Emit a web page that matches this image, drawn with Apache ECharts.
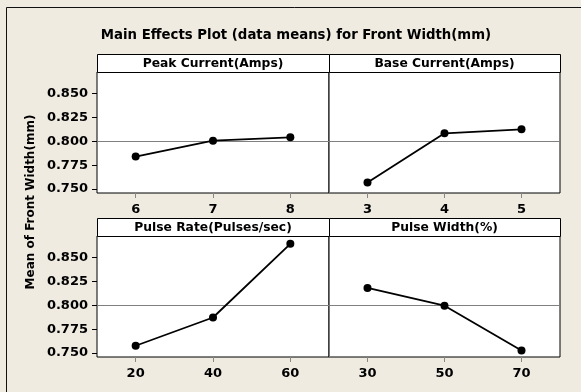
<!DOCTYPE html>
<html>
<head>
<meta charset="utf-8">
<script src="https://cdn.jsdelivr.net/npm/echarts@6/dist/echarts.min.js"></script>
<style>
html,body{margin:0;padding:0;background:#EFEBE1;}
#chart{width:581px;height:392px;}
</style>
</head>
<body>
<div id="chart"></div>
<script>
// ---- data ----
const chartTitle = 'Main Effects Plot (data means) for Front Width(mm)';
const yAxisTitle = 'Mean of Front Width(mm)';
const factorNames = ['Peak Current(Amps)', 'Base Current(Amps)', 'Pulse Rate(Pulses/sec)', 'Pulse Width(%)'];
const peakLevels = ['6', '7', '8'];
const peakMeans = [0.7840, 0.8007, 0.8042];
const baseLevels = ['3', '4', '5'];
const baseMeans = [0.7568, 0.8084, 0.8126];
const rateLevels = ['20', '40', '60'];
const rateMeans = [0.7576, 0.7872, 0.8645];
const widthLevels = ['30', '50', '70'];
const widthMeans = [0.8182, 0.7996, 0.7527];
const yTicks = [0.750, 0.775, 0.800, 0.825, 0.850];
const grandMean = 0.7975;
const yMin = 0.7458, yMax = 0.8727;

const levels = [peakLevels, baseLevels, rateLevels, widthLevels];
const means = [peakMeans, baseMeans, rateMeans, widthMeans];

const FONT = 'DejaVu Sans';
const L = 97, M = 329, R = 560;
const rows = [{stripTop: 54, top: 72, h: 121}, {stripTop: 218, top: 236, h: 121}];

const grids = [], xAxes = [], yAxes = [], series = [], graphics = [];

// outer frame (top + left borders visible)
graphics.push({type: 'rect', shape: {x: 6.5, y: 7.5, width: 800, height: 600},
  style: {fill: 'none', stroke: '#111', lineWidth: 1}, z: 0, silent: true});

for (let i = 0; i < 4; i++) {
  const row = rows[Math.floor(i / 2)];
  const col = i % 2;
  const left = col === 0 ? L : M;
  const width = col === 0 ? M - L : R - M;
  grids.push({left: left, top: row.top, width: width, height: row.h,
    show: true, backgroundColor: '#fff', borderColor: '#000', borderWidth: 1, containLabel: false});
  xAxes.push({type: 'category', gridIndex: i, data: levels[i], boundaryGap: true,
    axisLine: {show: false},
    axisTick: {show: true, alignWithLabel: true, length: 5, lineStyle: {color: '#888', width: 1}},
    axisLabel: {show: true, margin: 10, color: '#000', fontFamily: FONT, fontWeight: 'bold', fontSize: 13},
    splitLine: {show: false}});
  yAxes.push({type: 'value', gridIndex: i, min: yMin, max: yMax,
    axisLine: {show: false},
    axisTick: {show: col === 0, length: 5, customValues: yTicks, lineStyle: {color: '#000'}},
    axisLabel: {show: col === 0, margin: 9, customValues: yTicks, color: '#000', fontFamily: FONT,
      fontWeight: 'bold', fontSize: 13, formatter: v => v.toFixed(3)},
    splitLine: {show: false}});
  series.push({type: 'line', xAxisIndex: i, yAxisIndex: i, data: means[i],
    symbol: 'circle', symbolSize: 8, showSymbol: true,
    lineStyle: {color: '#000', width: 1.8}, itemStyle: {color: '#000'},
    animation: false, silent: true, z: 5,
    markLine: {silent: true, symbol: ['none', 'none'], label: {show: false},
      lineStyle: {color: '#808080', width: 1, type: 'solid'},
      data: [{yAxis: grandMean}], animation: false}});
  // strip header
  graphics.push({type: 'rect', shape: {x: left + 0.5, y: row.stripTop + 0.5, width: width, height: row.top - row.stripTop},
    style: {fill: '#fff', stroke: '#000', lineWidth: 1}, z: 10, silent: true});
  graphics.push({type: 'text', x: left + width / 2, y: row.stripTop + (row.top - row.stripTop) / 2 + 0.5,
    style: {text: factorNames[i], fill: '#000', font: 'bold 12.3px "' + FONT + '"', align: 'center', verticalAlign: 'middle'},
    z: 11, silent: true});
}
// gray dividers between the panels of each row
rows.forEach(row => {
  graphics.push({type: 'line', shape: {x1: M + 0.5, y1: row.top + 1, x2: M + 0.5, y2: row.top + row.h},
    style: {stroke: '#777', lineWidth: 1}, z: 12, silent: true});
});
// title and y axis name
graphics.push({type: 'text', x: 296, y: 36,
  style: {text: chartTitle, fill: '#000', font: 'bold 13.3px "' + FONT + '"', align: 'center', verticalAlign: 'middle'},
  z: 11, silent: true});
graphics.push({type: 'text', x: 31, y: 202, rotation: Math.PI / 2,
  style: {text: yAxisTitle, fill: '#000', font: 'bold 12px "' + FONT + '"', align: 'center', verticalAlign: 'middle'},
  z: 11, silent: true});

const chart = echarts.init(document.getElementById('chart'), null, {renderer: 'canvas'});
chart.setOption({
  backgroundColor: '#EFEBE1',
  animation: false,
  grid: grids, xAxis: xAxes, yAxis: yAxes, series: series,
  graphic: graphics
});
</script>
</body>
</html>
